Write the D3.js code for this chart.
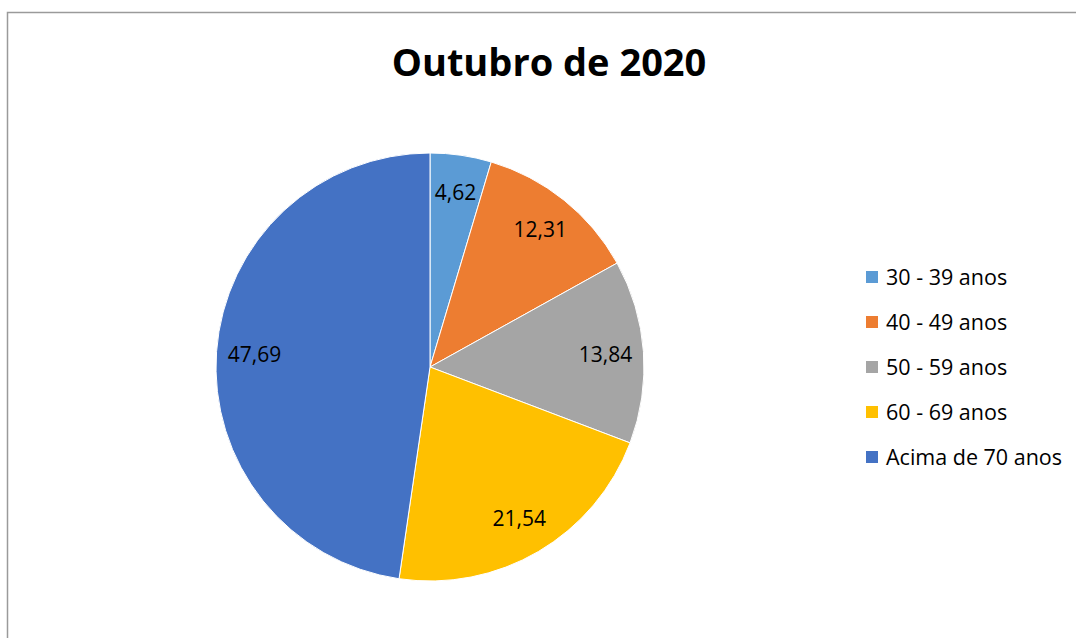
<!DOCTYPE html>
<html lang="pt">
  <head>
    <meta charset="UTF-8" />
    <title>Outubro de 2020</title>
    <script src="https://d3js.org/d3.v7.min.js"></script>
    <style>
      body { margin: 0; background: #fff; }
      text { font-family: "Open Sans", "Liberation Sans", sans-serif; fill: #000; }
    </style>
  </head>
  <body>
    <script>
      const categories = ["30 - 39 anos", "40 - 49 anos", "50 - 59 anos", "60 - 69 anos", "Acima de 70 anos"];
      const values = [4.62, 12.31, 13.84, 21.54, 47.69];
      const colors = ["#5b9bd5", "#ed7d31", "#a5a5a5", "#ffc000", "#4472c4"];

      let width = 1076, height = 638;

      const svg = d3.select("body")
        .append("svg")
        .attr("width", width)
        .attr("height", height);

      // chart border (only top and left visible)
      svg.append("rect")
        .attr("x", 7.5).attr("y", 12.5)
        .attr("width", width + 20).attr("height", height + 20)
        .attr("fill", "none")
        .attr("stroke", "#9a9a9a")
        .attr("stroke-width", 1.5);

      svg.append("text")
        .attr("x", 549).attr("y", 76)
        .attr("text-anchor", "middle")
        .style("font-size", "38px")
        .style("font-weight", "bold")
        .text("Outubro de 2020");

      const cx = 430, cy = 367, r = 214;
      const color = d3.scaleOrdinal().domain(categories).range(colors);

      const pie = d3.pie().sort(null).value(d => d.v);
      const arcs = pie(categories.map((c, i) => ({ c: c, v: values[i] })));
      const arc = d3.arc().innerRadius(0).outerRadius(r);
      const labelArc = d3.arc().innerRadius(176).outerRadius(176);

      const g = svg.append("g").attr("transform", `translate(${cx},${cy})`);

      g.selectAll("path")
        .data(arcs)
        .enter()
        .append("path")
        .attr("d", arc)
        .attr("fill", d => color(d.data.c))
        .attr("stroke", "#fff")
        .attr("stroke-width", 1);

      g.selectAll(".lbl")
        .data(arcs)
        .enter()
        .append("text")
        .attr("class", "lbl")
        .attr("transform", d => `translate(${labelArc.centroid(d)})`)
        .attr("text-anchor", "middle")
        .attr("dy", "0.35em")
        .style("font-size", "21px")
        .text(d => d3.format(".2f")(d.data.v).replace(".", ","));

      const legend = svg.append("g").attr("transform", "translate(866,277)");
      const row = legend.selectAll("g")
        .data(categories)
        .enter()
        .append("g")
        .attr("transform", (d, i) => `translate(0,${i * 45})`);

      row.append("rect")
        .attr("x", 0).attr("y", -6)
        .attr("width", 12).attr("height", 12)
        .attr("fill", d => color(d));

      row.append("text")
        .attr("x", 20).attr("dy", "0.35em")
        .style("font-size", "21.5px")
        .text(d => d);
    </script>
  </body>
</html>
